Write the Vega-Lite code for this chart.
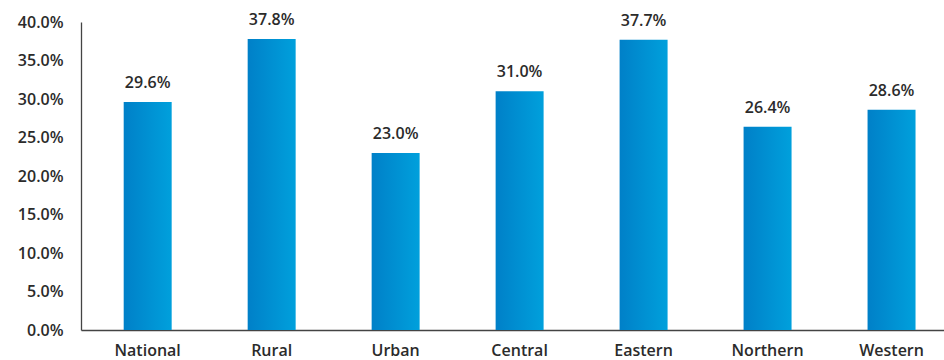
{
  "$schema": "https://vega.github.io/schema/vega-lite/v6.json",
  "width": 863,
  "height": 308,
  "autosize": "none",
  "padding": {"left": 81, "top": 22, "right": 0, "bottom": 30},
  "background": "white",
  "config": {"view": {"stroke": null}, "font": "Open Sans"},
  "data": {"values": [
    {"region": "National", "value": 0.296},
    {"region": "Rural", "value": 0.378},
    {"region": "Urban", "value": 0.230},
    {"region": "Central", "value": 0.310},
    {"region": "Eastern", "value": 0.377},
    {"region": "Northern", "value": 0.264},
    {"region": "Western", "value": 0.286}
  ]},
  "encoding": {
    "x": {"field": "region", "type": "nominal", "sort": null,
      "scale": {"paddingInner": 0.613, "paddingOuter": 0.287, "align": 0.6},
      "axis": {"title": null, "labelAngle": 0, "ticks": false, "domainColor": "#444", "domainWidth": 1.3,
        "labelFont": "Open Sans", "labelFontSize": 16, "labelFontWeight": 600, "labelColor": "#2b2b2b", "labelPadding": 12}},
    "y": {"field": "value", "type": "quantitative",
      "scale": {"domain": [0, 0.4], "nice": false},
      "axis": {"title": null, "format": ".1%", "values": [0, 0.05, 0.1, 0.15, 0.2, 0.25, 0.3, 0.35, 0.4], "grid": false, "ticks": false,
        "domainColor": "#444", "domainWidth": 1.3, "labelFont": "Open Sans", "labelFontSize": 16, "labelFontWeight": 600, "labelColor": "#2b2b2b", "labelPadding": 18}}
  },
  "layer": [
    {"mark": {"type": "bar", "color": {"gradient": "linear", "x1": 0, "x2": 1, "y1": 0, "y2": 0,
      "stops": [{"offset": 0, "color": "#0080c8"}, {"offset": 1, "color": "#00a0dc"}]}}},
    {"mark": {"type": "text", "baseline": "bottom", "dy": -11, "font": "Open Sans", "fontSize": 16, "fontWeight": 600, "color": "#2b2b2b"},
      "encoding": {"text": {"field": "value", "type": "quantitative", "format": ".1%"}}}
  ]
}
